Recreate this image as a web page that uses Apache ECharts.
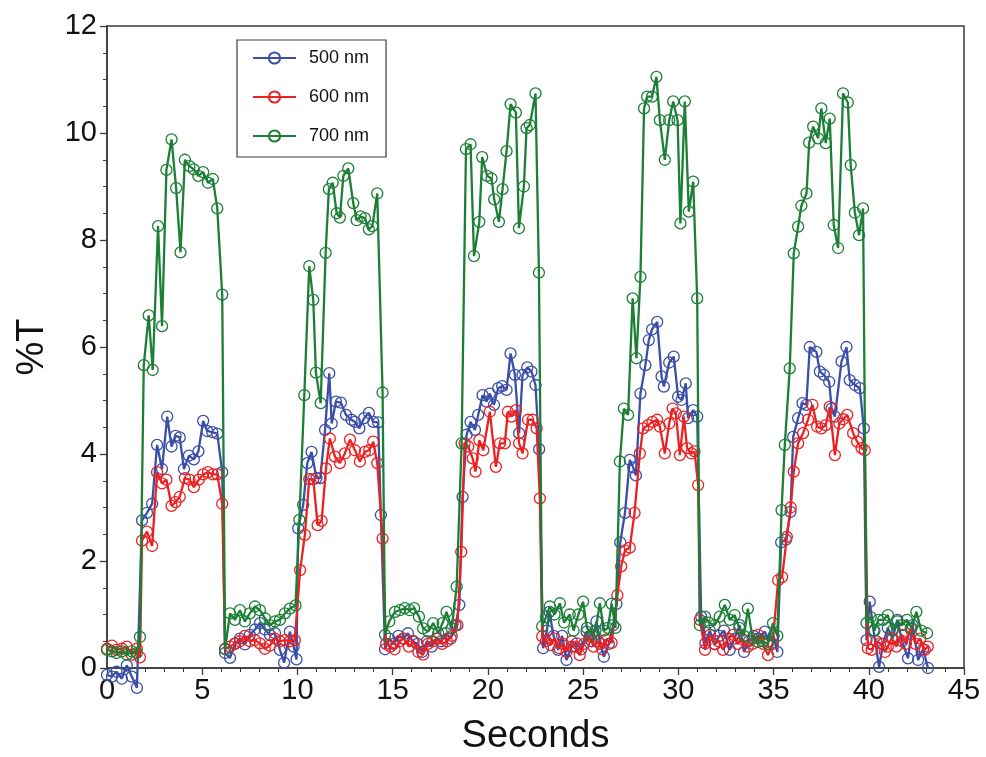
<!DOCTYPE html>
<html>
<head>
<meta charset="utf-8">
<title>%T vs Seconds</title>
<script src="https://cdn.jsdelivr.net/npm/echarts@6/dist/echarts.min.js"></script>
<style>
  html, body { margin: 0; padding: 0; background: #fff; }
  #chart { width: 986px; height: 757px; }
</style>
</head>
<body>
<div id="chart"></div>
<script>
// readings taken off the plot: [seconds, %T]
const nm500 = [
  [0, -0.13], [0.26, -0.16], [0.5, -0.07], [0.78, -0.2], [1.04, 0.05], [1.3, -0.16], [1.57, -0.37],
  [1.84, 2.76], [2.1, 2.9], [2.37, 3.07], [2.63, 4.17], [2.89, 3.72], [3.16, 4.7], [3.39, 4.14],
  [3.6, 4.34], [3.82, 4.31], [4.04, 3.72], [4.3, 3.97], [4.56, 3.9], [4.8, 4.05], [5.05, 4.62],
  [5.26, 4.43], [5.53, 4.41], [5.79, 4.38], [6.05, 3.66],
  [6.2, 0.28], [6.46, 0.19], [6.72, 0.45], [6.98, 0.55], [7.24, 0.44], [7.5, 0.62], [7.77, 0.72],
  [8.03, 0.84], [8.29, 0.72], [8.55, 0.62], [8.82, 0.65], [9.08, 0.34], [9.3, 0.1], [9.6, 0.68],
  [9.8, 0.4], [9.95, 0.16],
  [10.04, 2.61], [10.3, 3.05], [10.52, 3.83], [10.74, 4.04], [11.0, 3.55], [11.2, 3.55], [11.45, 4.45],
  [11.67, 5.51], [11.8, 4.57], [12.02, 4.98], [12.28, 4.96], [12.55, 4.73], [12.84, 4.64], [13.02, 4.6],
  [13.25, 4.48], [13.5, 4.67], [13.75, 4.77], [13.98, 4.6], [14.24, 4.59], [14.38, 2.86],
  [14.6, 0.35], [14.82, 0.55], [15.05, 0.45], [15.3, 0.6], [15.55, 0.55], [15.8, 0.65], [16.05, 0.5],
  [16.3, 0.45], [16.55, 0.3], [16.8, 0.5], [17.05, 0.4], [17.3, 0.55], [17.55, 0.5], [17.8, 0.65],
  [18.05, 0.55], [18.3, 0.8], [18.5, 1.18],
  [18.67, 3.2], [18.88, 4.36], [19.09, 4.6], [19.32, 4.45], [19.49, 4.73], [19.72, 5.1], [19.93, 4.98],
  [20.1, 5.13], [20.32, 4.92], [20.54, 5.23], [20.75, 5.27], [20.98, 5.2], [21.19, 5.88], [21.42, 5.48],
  [21.64, 4.39], [21.82, 5.48], [22.07, 5.62], [22.29, 5.54], [22.5, 5.29], [22.69, 4.09],
  [22.9, 0.37], [23.1, 0.7], [23.23, 1.05], [23.45, 0.6], [23.69, 0.34], [23.9, 0.6], [24.13, 0.15],
  [24.4, 0.4], [24.66, 0.46], [24.9, 0.35], [25.18, 0.68], [25.45, 0.5], [25.7, 0.87], [25.9, 0.45],
  [26.09, 0.21], [26.35, 0.45], [26.58, 0.8], [26.75, 1.2],
  [26.95, 2.35], [27.2, 2.9], [27.45, 3.89], [27.63, 3.75], [27.77, 3.6], [28.01, 5.13], [28.27, 5.66],
  [28.45, 6.13], [28.62, 6.33], [28.89, 6.47], [29.12, 5.45], [29.24, 5.26], [29.52, 5.71], [29.76, 5.82],
  [29.99, 5.07], [30.17, 5.01], [30.39, 5.32], [30.51, 4.67], [30.78, 4.82], [30.99, 4.7],
  [31.2, 0.96], [31.42, 0.46], [31.65, 0.7], [31.92, 0.44], [32.15, 0.6], [32.4, 0.7], [32.7, 0.34],
  [32.95, 0.55], [33.22, 0.8], [33.45, 0.3], [33.7, 0.5], [33.95, 0.6], [34.2, 0.55], [34.54, 0.68],
  [34.75, 0.5], [35.0, 0.6], [35.2, 0.3],
  [35.4, 2.35], [35.65, 2.4], [35.89, 2.92], [36.03, 4.32], [36.29, 4.67], [36.52, 4.95], [36.72, 4.92],
  [36.9, 6.0], [37.25, 5.91], [37.43, 5.54], [37.64, 5.48], [37.92, 5.35], [38.05, 4.85], [38.22, 4.7],
  [38.57, 5.73], [38.83, 6.0], [39.0, 5.38], [39.27, 5.29], [39.53, 5.23], [39.74, 4.48],
  [39.88, 0.52], [40.05, 1.24], [40.25, 0.7], [40.54, 0.02], [40.75, 0.45], [41.0, 0.75], [41.25, 0.55],
  [41.5, 0.9], [41.75, 0.5], [42.06, 0.18], [42.3, 0.8], [42.59, 0.15], [42.85, 0.35], [43.11, 0.0]
];

const nm600 = [
  [0, 0.36], [0.26, 0.42], [0.5, 0.34], [0.78, 0.36], [1.04, 0.4], [1.3, 0.25], [1.57, 0.36], [1.73, 0.2],
  [1.84, 2.38], [2.1, 2.55], [2.37, 2.28], [2.63, 3.66], [2.89, 3.45], [3.12, 3.52], [3.39, 3.03],
  [3.6, 3.1], [3.82, 3.2], [4.09, 3.55], [4.33, 3.52], [4.56, 3.38], [4.82, 3.52], [5.05, 3.62],
  [5.3, 3.66], [5.56, 3.62], [5.79, 3.62], [6.05, 3.07],
  [6.2, 0.36], [6.46, 0.4], [6.72, 0.46], [6.98, 0.5], [7.24, 0.6], [7.5, 0.5], [7.77, 0.52],
  [8.03, 0.46], [8.29, 0.36], [8.55, 0.42], [8.82, 0.55], [9.08, 0.5], [9.34, 0.52], [9.6, 0.5], [9.86, 0.52],
  [10.14, 1.83], [10.39, 2.49], [10.62, 3.53], [10.83, 3.53], [11.06, 2.67], [11.27, 2.75], [11.5, 3.73],
  [11.7, 4.29], [11.97, 3.95], [12.23, 3.83], [12.49, 4.01], [12.76, 4.27], [13.02, 4.07], [13.28, 3.86],
  [13.54, 4.04], [13.77, 4.07], [13.98, 4.23], [14.19, 3.83], [14.47, 2.42],
  [14.65, 0.45], [14.88, 0.4], [15.1, 0.35], [15.35, 0.5], [15.6, 0.55], [15.85, 0.4], [16.1, 0.5],
  [16.35, 0.3], [16.6, 0.25], [16.85, 0.45], [17.1, 0.5], [17.35, 0.55], [17.6, 0.45], [17.85, 0.5],
  [18.1, 0.6], [18.4, 0.8], [18.6, 2.17],
  [18.78, 4.2], [18.97, 4.14], [19.2, 3.92], [19.35, 3.67], [19.55, 4.26], [19.76, 4.07], [20.1, 4.79],
  [20.42, 3.76], [20.63, 4.2], [20.89, 4.2], [21.05, 4.79], [21.24, 4.7], [21.47, 4.82], [21.64, 4.2],
  [21.82, 4.01], [22.11, 4.64], [22.35, 4.64], [22.56, 4.48], [22.73, 3.17],
  [22.85, 0.59], [23.05, 0.5], [23.3, 0.43], [23.5, 0.55], [23.75, 0.37], [23.95, 0.45], [24.13, 0.3],
  [24.4, 0.5], [24.6, 0.4], [24.82, 0.24], [25.05, 0.45], [25.34, 0.59], [25.55, 0.4], [25.8, 0.5],
  [26.0, 0.35], [26.2, 0.53], [26.5, 0.47], [26.8, 1.36],
  [27.0, 1.9], [27.2, 2.2], [27.45, 2.25], [27.7, 2.9], [27.98, 4.01], [28.15, 4.48], [28.41, 4.54],
  [28.64, 4.6], [28.89, 4.64], [29.03, 4.51], [29.29, 4.01], [29.52, 4.57], [29.7, 4.85], [29.87, 4.76],
  [30.08, 3.98], [30.29, 4.7], [30.46, 4.11], [30.69, 4.01], [30.85, 4.05], [31.04, 3.42],
  [31.13, 0.9], [31.4, 0.34], [31.66, 0.62], [31.9, 0.45], [32.1, 0.5], [32.35, 0.34], [32.6, 0.55],
  [32.88, 0.62], [33.1, 0.45], [33.4, 0.53], [33.65, 0.4], [33.9, 0.45], [34.19, 0.62], [34.45, 0.45],
  [34.71, 0.24], [34.95, 0.45], [35.24, 1.64],
  [35.45, 1.7], [35.7, 2.45], [35.9, 3.0], [36.06, 3.67], [36.29, 4.2], [36.55, 4.39], [36.81, 4.64],
  [37.04, 4.92], [37.29, 4.51], [37.51, 4.48], [37.74, 4.54], [37.95, 4.88], [38.22, 3.98], [38.45, 4.57],
  [38.65, 4.65], [38.87, 4.73], [39.18, 4.39], [39.39, 4.23], [39.62, 4.11], [39.79, 4.07],
  [39.95, 0.37], [40.15, 0.34], [40.4, 0.5], [40.6, 0.46], [40.85, 0.3], [41.0, 0.4], [41.2, 0.56],
  [41.45, 0.4], [41.73, 0.62], [41.95, 0.45], [42.2, 0.74], [42.45, 0.45], [42.7, 0.55], [42.94, 0.34], [43.1, 0.4]
];

const nm700 = [
  [0, 0.34], [0.26, 0.31], [0.5, 0.28], [0.78, 0.31], [1.04, 0.25], [1.3, 0.31], [1.57, 0.28], [1.73, 0.58],
  [1.93, 5.66], [2.19, 6.59], [2.4, 5.57], [2.68, 8.26], [2.89, 6.39], [3.12, 9.31], [3.39, 9.88],
  [3.63, 8.97], [3.86, 7.77], [4.09, 9.5], [4.33, 9.38], [4.56, 9.32], [4.79, 9.2], [5.05, 9.27],
  [5.3, 9.07], [5.56, 9.14], [5.79, 8.59], [6.05, 6.98],
  [6.2, 0.35], [6.46, 1.02], [6.72, 0.9], [6.98, 1.08], [7.24, 0.87], [7.5, 1.02], [7.77, 1.15],
  [8.03, 1.08], [8.29, 0.93], [8.55, 0.8], [8.82, 0.87], [9.08, 0.9], [9.34, 1.02], [9.6, 1.11], [9.9, 1.17],
  [10.1, 2.77], [10.36, 5.1], [10.62, 7.51], [10.83, 6.88], [10.97, 5.52], [11.22, 4.95], [11.48, 7.76],
  [11.65, 8.95], [11.85, 9.07], [12.06, 8.5], [12.23, 8.42], [12.41, 9.2], [12.67, 9.34], [12.93, 8.69],
  [13.11, 8.37], [13.32, 8.44], [13.54, 8.41], [13.75, 8.2], [13.93, 8.26], [14.19, 8.87], [14.47, 5.15],
  [14.6, 0.62], [14.82, 0.87], [15.12, 1.05], [15.38, 1.08], [15.64, 1.12], [15.9, 1.08], [16.13, 1.12],
  [16.38, 0.96], [16.6, 0.74], [16.87, 0.68], [17.13, 0.84], [17.39, 0.65], [17.62, 0.84], [17.83, 1.05],
  [18.1, 0.74], [18.36, 1.52],
  [18.62, 4.2], [18.85, 9.7], [19.09, 9.79], [19.27, 7.7], [19.55, 8.34], [19.7, 9.55], [19.96, 9.2],
  [20.19, 9.15], [20.33, 8.76], [20.58, 8.34], [20.77, 8.95], [20.98, 9.66], [21.19, 10.54], [21.47, 10.38],
  [21.63, 8.22], [21.89, 9.0], [22.03, 10.09], [22.2, 10.15], [22.5, 10.74], [22.68, 7.39],
  [22.85, 0.78], [23.05, 0.95], [23.25, 1.15], [23.5, 1.0], [23.78, 1.21], [24.0, 0.85], [24.3, 1.0],
  [24.5, 0.7], [24.75, 1.0], [25.0, 1.24], [25.2, 0.75], [25.45, 0.62], [25.65, 0.7], [25.88, 1.21],
  [26.1, 0.7], [26.3, 0.75], [26.5, 1.2], [26.7, 0.75],
  [26.93, 3.86], [27.14, 4.85], [27.36, 4.73], [27.6, 6.91], [27.8, 5.79], [28.01, 7.31], [28.2, 10.46],
  [28.36, 10.68], [28.62, 10.68], [28.85, 11.05], [29.03, 10.24], [29.29, 9.5], [29.52, 10.24], [29.73, 10.59],
  [29.96, 10.24], [30.11, 8.31], [30.34, 10.59], [30.55, 8.53], [30.78, 9.09], [30.99, 6.91],
  [31.13, 0.8], [31.4, 0.96], [31.6, 0.85], [31.9, 0.8], [32.17, 0.96], [32.44, 1.18], [32.7, 0.9],
  [32.96, 0.99], [33.2, 0.75], [33.45, 0.6], [33.65, 1.11], [33.9, 0.55], [34.19, 0.49], [34.45, 0.5],
  [34.7, 0.45], [34.97, 0.84], [35.2, 0.6],
  [35.42, 2.95], [35.59, 4.17], [35.85, 5.6], [36.06, 7.75], [36.29, 8.25], [36.46, 8.64], [36.73, 8.87],
  [36.87, 9.82], [37.08, 10.12], [37.34, 9.9], [37.51, 10.46], [37.74, 9.81], [37.95, 10.27], [38.16, 8.28],
  [38.39, 7.85], [38.65, 10.74], [38.9, 10.57], [39.05, 9.4], [39.27, 8.51], [39.49, 8.09], [39.7, 8.59],
  [39.88, 0.84], [40.1, 0.95], [40.3, 0.7], [40.5, 0.9], [40.75, 0.9], [41.0, 0.99], [41.25, 0.7],
  [41.5, 0.87], [41.75, 0.8], [42.0, 0.9], [42.25, 0.75], [42.5, 1.05], [42.75, 0.7], [43.06, 0.65]
];

const seriesNames = ['500 nm', '600 nm', '700 nm'];
const seriesColors = ['#3b4ea8', '#ec2121', '#1c7f36'];
const seriesData = [nm500, nm600, nm700];

const fontFam = '"Liberation Sans", Arial, Helvetica, sans-serif';
const axisColor = '#3a3a3a';

const chart = echarts.init(document.getElementById('chart'));

chart.setOption({
  animation: false,
  backgroundColor: '#fff',
  grid: {
    left: 107,
    right: 22,
    top: 26,
    bottom: 89,
    outerBoundsMode: 'none',
    show: true,
    borderColor: axisColor,
    borderWidth: 1.5,
    backgroundColor: 'transparent'
  },
  legend: {
    orient: 'vertical',
    left: 237,
    top: 40,
    padding: [9, 17, 12, 15],
    itemGap: 21,
    itemWidth: 43,
    itemHeight: 14,
    borderColor: axisColor,
    borderWidth: 1.2,
    backgroundColor: '#fff',
    textStyle: {
      fontFamily: fontFam,
      fontSize: 18,
      color: '#111',
      padding: [0, 0, 0, 8]
    },
    data: seriesNames
  },
  xAxis: {
    type: 'value',
    min: 0,
    max: 45,
    interval: 5,
    name: 'Seconds',
    nameLocation: 'middle',
    nameGap: 50,
    nameTextStyle: { fontFamily: fontFam, fontSize: 38, color: '#111' },
    axisLine: { show: true, onZero: false, lineStyle: { color: axisColor, width: 1.5 } },
    axisTick: { show: true, inside: false, length: 7, lineStyle: { color: axisColor, width: 1.3 } },
    minorTick: { show: true, splitNumber: 5, length: 4, lineStyle: { color: axisColor, width: 1 } },
    splitLine: { show: false },
    axisLabel: { fontFamily: fontFam, fontSize: 29, color: '#111', margin: 8 }
  },
  yAxis: {
    type: 'value',
    min: 0,
    max: 12,
    interval: 2,
    name: '%T',
    nameLocation: 'middle',
    nameGap: 55,
    nameTextStyle: { fontFamily: fontFam, fontSize: 38, color: '#111' },
    axisLine: { show: true, onZero: false, lineStyle: { color: axisColor, width: 1.5 } },
    axisTick: { show: true, inside: false, length: 7, lineStyle: { color: axisColor, width: 1.3 } },
    minorTick: { show: true, splitNumber: 4, length: 4, lineStyle: { color: axisColor, width: 1 } },
    splitLine: { show: false },
    axisLabel: { fontFamily: fontFam, fontSize: 29, color: '#111', margin: 10 }
  },
  series: seriesNames.map((name, i) => ({
    name: name,
    type: 'line',
    data: seriesData[i],
    clip: false,
    symbol: 'circle',
    symbolSize: 11,
    showAllSymbol: true,
    lineStyle: { color: seriesColors[i], width: 2.3 },
    itemStyle: { color: 'rgba(255,255,255,0)', borderColor: seriesColors[i], borderWidth: 1.3 },
    emphasis: { disabled: true },
    z: 2 + i
  }))
});
</script>
</body>
</html>
